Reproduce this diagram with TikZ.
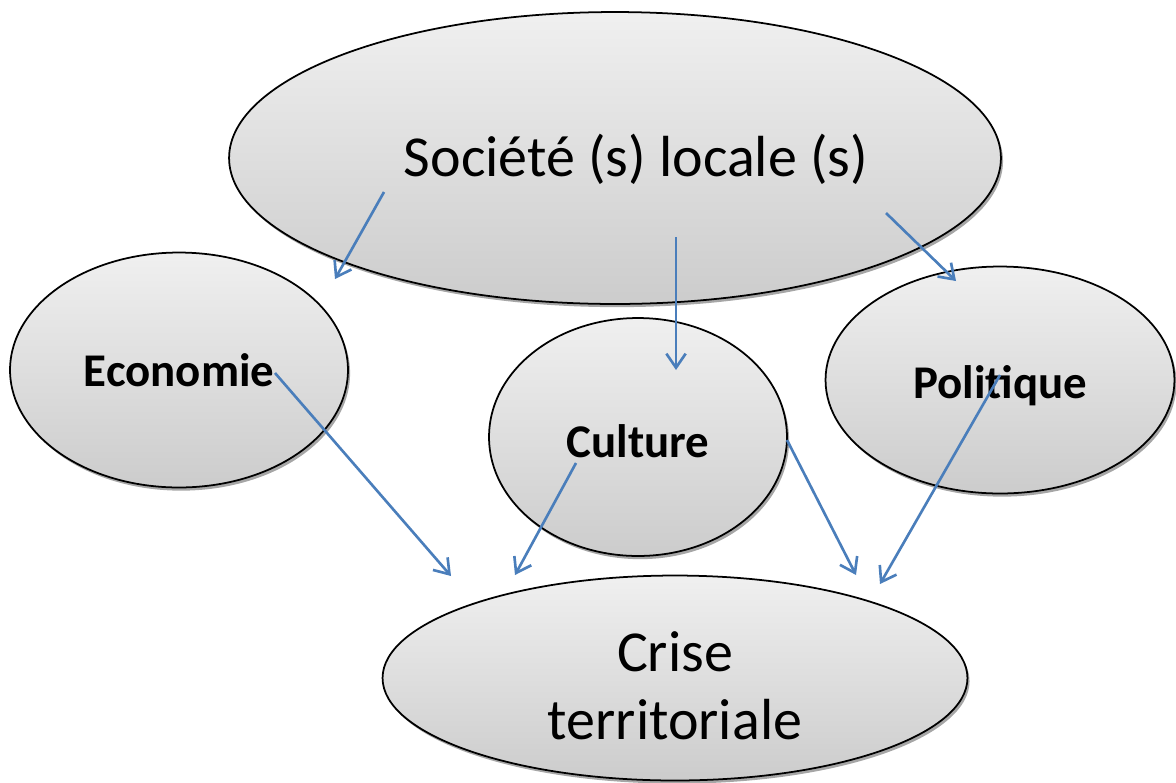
\documentclass[tikz,border=0pt]{standalone}
\usepackage{fontspec}
\setmainfont{Carlito}
\usetikzlibrary{shapes.geometric,shadows,arrows.meta}

\colorlet{bubble_top}{gray!12}
\colorlet{bubble_bottom}{gray!40}
\definecolor{link_blue}{RGB}{74,126,187}

\begin{document}
\begin{tikzpicture}[x=0.02cm, y=-0.02cm,
    bubble/.style={ellipse, draw=black, line width=1pt, inner sep=0pt,
      top color=bubble_top, bottom color=bubble_bottom,
      drop shadow={shadow xshift=1.2pt, shadow yshift=-1.8pt,
        fill=black!35, opacity=1}},
    big/.style={font=\fontsize{33}{38.7}\selectfont, align=center},
    small/.style={font=\fontsize{26.7}{32}\selectfont\bfseries},
    link/.style={draw=link_blue, line width=1.5pt,
      -{Straight Barb[length=8pt, width=11pt, line width=1.5pt]}}]
    \useasboundingbox (0,0) rectangle (1176,782);

    \node[bubble, big, minimum width=15.44cm, minimum height=5.84cm,
      text height=21.6pt, text depth=0pt]
      (soc) at (615,158) {\hspace*{0.84cm}Société (s) locale (s)};
    \node[bubble, small, minimum width=6.76cm, minimum height=4.70cm,
      text height=19pt, text depth=0pt]
      (eco) at (179,370) {Economie};
    \node[bubble, small, minimum width=6.98cm, minimum height=4.54cm,
      text height=20.5pt, text depth=0pt]
      (pol) at (1000,380) {Politique};
    \node[bubble, small, minimum width=5.96cm, minimum height=4.76cm,
      text height=22.8pt, text depth=0pt]
      (cul) at (638,437) {Culture};
    \node[bubble, big, minimum width=11.70cm, minimum height=4.10cm]
      (cri) at (675,678) {\rule{0pt}{32pt}Crise\\territoriale};

    % arrow ends
    \coordinate (soc_a) at (384,192);
    \coordinate (soc_b) at (676,237);
    \coordinate (soc_c) at (886,213);
    \coordinate (eco_in) at (335,279);
    \coordinate (cul_in) at (676,370);
    \coordinate (pol_in) at (956,281);
    \coordinate (eco_out) at (275,373);
    \coordinate (cul_a) at (576,463);
    \coordinate (cul_b) at (787,440);
    \coordinate (pol_out) at (1000,375);
    \coordinate (cri_a) at (451,576);
    \coordinate (cri_b) at (515,575);
    \coordinate (cri_c) at (856,575);
    \coordinate (cri_d) at (880,584);

    \draw[link] (soc_a) -- (eco_in);
    \draw[link] (soc_b) -- (cul_in);
    \draw[link] (soc_c) -- (pol_in);
    \draw[link] (eco_out) -- (cri_a);
    \draw[link] (cul_a) -- (cri_b);
    \draw[link] (cul_b) -- (cri_c);
    \draw[link] (pol_out) -- (cri_d);
  \end{tikzpicture}
\end{document}
